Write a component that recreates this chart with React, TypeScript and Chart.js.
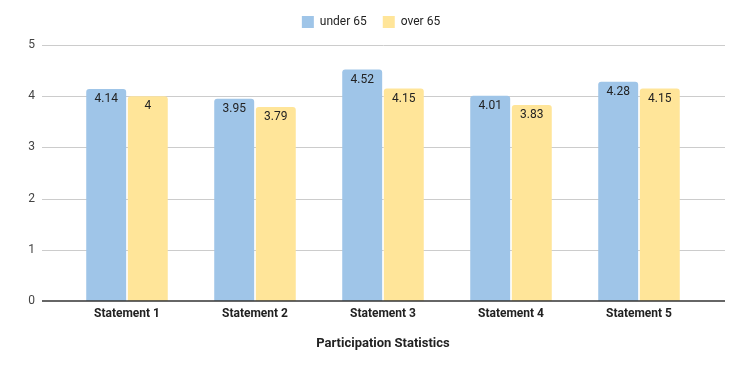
import React, { useEffect, useRef } from "react";
import { Chart, registerables } from "chart.js";

Chart.register(...registerables);

const categories = ["Statement 1", "Statement 2", "Statement 3", "Statement 4", "Statement 5"];
const under65 = [4.14, 3.95, 4.52, 4.01, 4.28];
const over65 = [4, 3.79, 4.15, 3.83, 4.15];
const seriesNames = ["under 65", "over 65"];
const yMin = 0;
const yMax = 5;
const yStep = 1;
const xTitle = "Participation Statistics";

const FONT = "Roboto, 'Noto Sans', Arial, sans-serif";

const gridPlugin = {
  id: "extGrid",
  beforeLayout(chart: any) {
    const lg = chart.legend;
    if (lg && !lg.__wrapped) {
      const orig = lg.fit.bind(lg);
      lg.fit = function () {
        orig();
        this.height = 45;
      };
      lg.__wrapped = true;
    }
  },
  beforeDatasetsDraw(chart: any) {
    const { ctx, chartArea, scales } = chart;
    const y = scales.y;
    const l = chartArea.left - 21;
    const r = chartArea.right + 22;
    ctx.save();
    ctx.lineWidth = 1;
    ctx.strokeStyle = "#cccccc";
    y.ticks.forEach((t: any) => {
      if (t.value === 0) return;
      const py = Math.round(y.getPixelForValue(t.value)) + 0.5;
      ctx.beginPath();
      ctx.moveTo(l, py);
      ctx.lineTo(r, py);
      ctx.stroke();
    });
    ctx.restore();
  },
  afterDatasetsDraw(chart: any) {
    const { ctx, chartArea, scales } = chart;
    const y = scales.y;
    const l = chartArea.left - 21;
    const r = chartArea.right + 22;
    ctx.save();
    const py0 = Math.round(y.getPixelForValue(0));
    ctx.strokeStyle = "#333333";
    ctx.lineWidth = 1.5;
    ctx.beginPath();
    ctx.moveTo(l, py0);
    ctx.lineTo(r, py0);
    ctx.stroke();
    ctx.fillStyle = "#222222";
    ctx.font = `12px ${FONT}`;
    ctx.textAlign = "center";
    ctx.textBaseline = "middle";
    chart.data.datasets.forEach((ds: any, di: number) => {
      const meta = chart.getDatasetMeta(di);
      meta.data.forEach((el: any, i: number) => {
        ctx.fillText(String(ds.data[i]), el.x, el.y + 10);
      });
    });
    ctx.restore();
  },
};

export default function App() {
  const ref = useRef<HTMLCanvasElement | null>(null);
  useEffect(() => {
    if (!ref.current) return;
    const chart = new Chart(ref.current, {
      type: "bar",
      data: {
        labels: categories,
        datasets: [
          {
            label: seriesNames[0],
            data: under65,
            backgroundColor: "#9fc5e8",
            borderRadius: { topLeft: 3, topRight: 3, bottomLeft: 0, bottomRight: 0 },
            borderSkipped: "bottom",
            categoryPercentage: 0.65,
            barPercentage: 0.96,
          },
          {
            label: seriesNames[1],
            data: over65,
            backgroundColor: "#ffe599",
            borderRadius: { topLeft: 3, topRight: 3, bottomLeft: 0, bottomRight: 0 },
            borderSkipped: "bottom",
            categoryPercentage: 0.65,
            barPercentage: 0.96,
          },
        ],
      },
      options: {
        responsive: false,
        animation: false,
        layout: { padding: 0 },
        plugins: {
          legend: {
            display: true,
            position: "top",
            labels: {
              boxWidth: 12,
              boxHeight: 12,
              padding: 16,
              color: "#222222",
              font: { family: FONT, size: 12 },
            },
          },
          tooltip: { enabled: false },
        },
        scales: {
          x: {
            grid: { display: false, drawTicks: false },
            border: { display: false },
            ticks: {
              color: "#222222",
              padding: 6,
              font: { family: FONT, size: 12, weight: "bold" },
            },
            title: {
              display: true,
              text: xTitle,
              color: "#222222",
              font: { family: FONT, size: 13, weight: "bold" },
              padding: { top: 4, bottom: 15 },
            },
            afterFit: (s: any) => {
              s.height = 66;
            },
          },
          y: {
            min: yMin,
            max: yMax,
            grid: { display: false, drawTicks: false },
            border: { display: false },
            ticks: {
              stepSize: yStep,
              color: "#444444",
              padding: 28,
              font: { family: FONT, size: 12 },
            },
            afterFit: (s: any) => {
              s.width = 63;
            },
          },
          y2: {
            position: "right",
            display: true,
            grid: { display: false, drawTicks: false },
            border: { display: false },
            ticks: { display: false },
            afterFit: (s: any) => {
              s.width = 39;
            },
          },
        },
      },
      plugins: [gridPlugin],
    } as any);
    return () => chart.destroy();
  }, []);
  return (
    <div style={{ position: "fixed", left: 0, top: 0, width: 742, height: 367, background: "#fff" }}>
      <canvas ref={ref} width={742} height={367} />
    </div>
  );
}
